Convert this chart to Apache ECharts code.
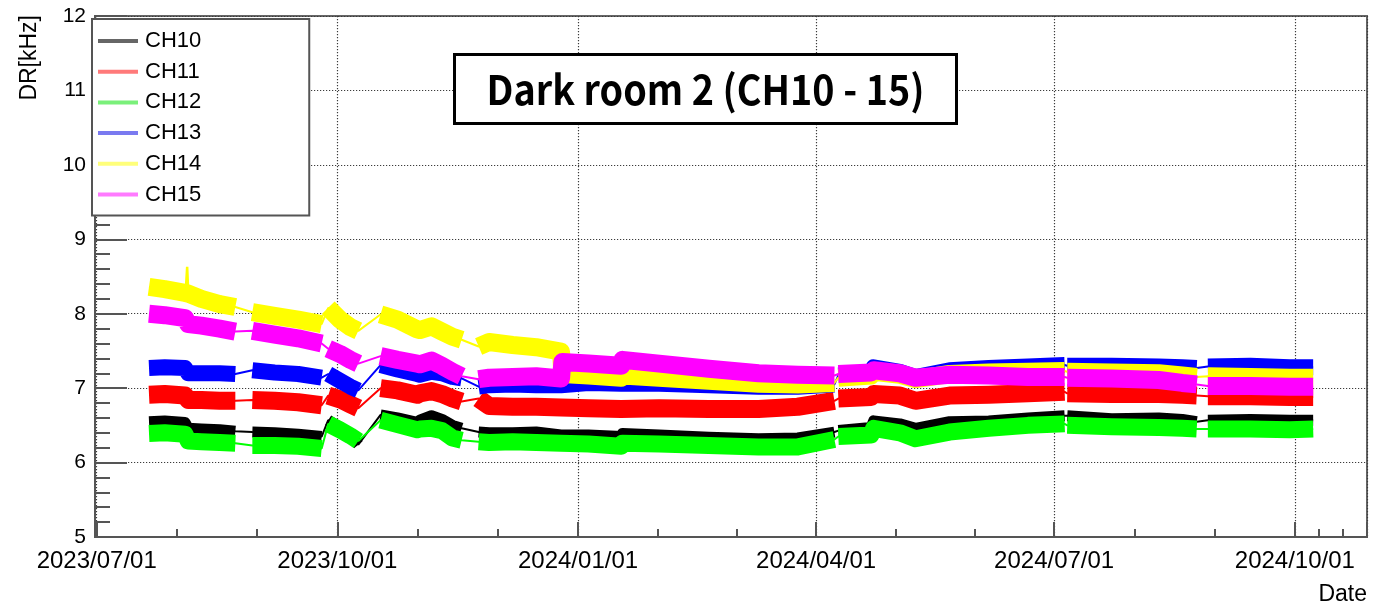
<!DOCTYPE html>
<html>
<head>
<meta charset="utf-8">
<title>Dark room 2 (CH10 - 15)</title>
<script src="https://cdn.jsdelivr.net/npm/echarts@6/dist/echarts.min.js"></script>
<style>
  html, body { margin: 0; padding: 0; background: #fff; }
  #chart { width: 1375px; height: 605px; }
</style>
</head>
<body>
<div id="chart"></div>
<script>
// Sampling dates of the dark-rate record; null values in the channel arrays mark
// the stretches without data (the points there only separate the runs).
const dates = [
  // run 1
  '2023-07-21', '2023-07-27', '2023-08-03T18:00',
  '2023-08-05', '2023-08-10', '2023-08-17', '2023-08-23',
  '2023-08-26',                                   // no data
  // run 2
  '2023-08-29T12:00', '2023-09-07', '2023-09-16', '2023-09-25',
  '2023-09-26T12:00',                             // no data
  // run 3
  '2023-09-27T12:00', '2023-10-02', '2023-10-06', '2023-10-09',
  '2023-10-13',                                   // no data
  // run 4
  '2023-10-17T12:00', '2023-10-24', '2023-10-31T12:00', '2023-11-01T12:00',
  '2023-11-06', '2023-11-10', '2023-11-14', '2023-11-17T12:00',
  '2023-11-21',                                   // no data
  // run 5
  '2023-11-24', '2023-11-28', '2023-12-07', '2023-12-16', '2023-12-25T12:00',
  '2023-12-26', '2024-01-05', '2024-01-17T12:00', '2024-01-18', '2024-02-01',
  '2024-02-20', '2024-03-10', '2024-03-25', '2024-04-08',
  '2024-04-08T18:00',                             // no data
  // run 6
  '2024-04-09T12:00', '2024-04-22', '2024-04-23', '2024-05-03', '2024-05-09',
  '2024-05-22', '2024-06-06', '2024-06-21', '2024-07-05',
  '2024-07-05T12:00',                             // no data
  // run 7
  '2024-07-06', '2024-07-23', '2024-08-10', '2024-08-19', '2024-08-24T12:00',
  '2024-08-26',                                   // no data
  // run 8
  '2024-08-28T18:00', '2024-09-14', '2024-09-29', '2024-10-08'
];

// Dark rate per channel [kHz], one value per entry of `dates`.
const ch10 = [
  6.55, 6.56, 6.54, 6.46, 6.45, 6.44, 6.42, null,
  6.41, 6.40, 6.38, 6.35, null,
  6.57, 6.47, 6.37, 6.24, null,
  6.64, 6.60, 6.54, 6.57, 6.63, 6.58, 6.50, 6.46, null,
  6.41, 6.40, 6.40, 6.41, 6.37, 6.37, 6.37, 6.35, 6.39, 6.37, 6.34, 6.32, 6.33, 6.41, null,
  6.43, 6.47, 6.56, 6.52, 6.46, 6.55, 6.56, 6.60, 6.63, null,
  6.63, 6.59, 6.60, 6.58, 6.55, null,
  6.57, 6.58, 6.57, 6.57
];
const ch11 = [
  6.91, 6.92, 6.90, 6.84, 6.84, 6.83, 6.83, null,
  6.84, 6.83, 6.81, 6.77, null,
  6.90, 6.85, 6.78, 6.73, null,
  7.00, 6.97, 6.91, 6.93, 6.96, 6.92, 6.86, 6.82, null,
  6.86, 6.76, 6.75, 6.75, 6.74, 6.74, 6.73, 6.72, 6.74, 6.73, 6.72, 6.72, 6.75, 6.83, null,
  6.86, 6.88, 6.92, 6.90, 6.83, 6.90, 6.91, 6.93, 6.95, null,
  6.93, 6.92, 6.92, 6.91, 6.90, null,
  6.89, 6.89, 6.88, 6.88
];
const ch12 = [
  6.39, 6.40, 6.38, 6.29, 6.28, 6.27, 6.26, null,
  6.23, 6.23, 6.22, 6.19, null,
  6.52, 6.44, 6.36, 6.29, null,
  6.57, 6.51, 6.44, 6.45, 6.46, 6.43, 6.33, 6.30, null,
  6.28, 6.27, 6.28, 6.27, 6.26, 6.26, 6.25, 6.22, 6.26, 6.25, 6.23, 6.21, 6.21, 6.31, null,
  6.35, 6.37, 6.46, 6.40, 6.32, 6.41, 6.46, 6.50, 6.52, null,
  6.50, 6.48, 6.47, 6.46, 6.45, null,
  6.45, 6.45, 6.44, 6.45
];
const ch13 = [
  7.27, 7.28, 7.27, 7.20, 7.20, 7.20, 7.19, null,
  7.24, 7.21, 7.19, 7.14, null,
  7.19, 7.10, 7.02, 6.97, null,
  7.31, 7.25, 7.19, 7.18, 7.22, 7.20, 7.15, 7.13, null,
  7.02, 7.04, 7.05, 7.04, 7.04, 7.06, 7.07, 7.06, 7.08, 7.06, 7.04, 7.02, 7.02, 7.05, null,
  7.17, 7.20, 7.28, 7.22, 7.15, 7.24, 7.27, 7.29, 7.31, null,
  7.30, 7.30, 7.29, 7.28, 7.27, null,
  7.29, 7.30, 7.28, 7.28
];
const ch14 = [
  8.36, 8.33, 8.28, 8.27, 8.20, 8.13, 8.09, null,
  8.02, 7.97, 7.92, 7.86, null,
  8.08, 7.92, 7.82, 7.77, null,
  7.99, 7.92, 7.79, 7.78, 7.83, 7.76, 7.69, 7.65, null,
  7.56, 7.62, 7.58, 7.55, 7.49, 7.19, 7.17, 7.14, 7.17, 7.14, 7.10, 7.06, 7.05, 7.07, null,
  7.14, 7.17, 7.22, 7.18, 7.12, 7.19, 7.21, 7.22, 7.23, null,
  7.22, 7.21, 7.20, 7.17, 7.15, null,
  7.16, 7.15, 7.14, 7.14
];
const ch15 = [
  8.00, 7.98, 7.94, 7.86, 7.84, 7.80, 7.76, null,
  7.77, 7.72, 7.67, 7.60, null,
  7.53, 7.46, 7.38, 7.33, null,
  7.43, 7.38, 7.33, 7.32, 7.37, 7.30, 7.22, 7.16, null,
  7.12, 7.14, 7.15, 7.16, 7.13, 7.35, 7.33, 7.30, 7.38, 7.33, 7.26, 7.20, 7.18, 7.17, null,
  7.19, 7.21, 7.24, 7.20, 7.14, 7.18, 7.17, 7.15, 7.15, null,
  7.14, 7.13, 7.11, 7.07, 7.05, null,
  7.03, 7.03, 7.02, 7.02
];

// Short burst on CH14 at the start of August 2023.
const ch14Burst = [
  ['2023-08-04T00:00', 8.28],
  ['2023-08-04T14:00', 8.63],
  ['2023-08-05T00:00', 8.28]
];

const channelNames = ['CH10', 'CH11', 'CH12', 'CH13', 'CH14', 'CH15'];
const channelValues = [ch10, ch11, ch12, ch13, ch14, ch15];

// Drawing styles
const lineColors   = ['#000000', '#ff0000', '#00ff00', '#0000ff', '#ffff00', '#ff00ff'];
const legendColors = ['#666666', '#ff7a7a', '#7af07a', '#7a7af0', '#ffff7a', '#ff7aff'];
const bandWidths   = [11, 18, 17, 16, 18, 18];
const FONT = '"Liberation Sans", Arial, sans-serif';
const DAY = 24 * 3600 * 1000;
const GRID_DOTS = { color: '#3c3c3c', width: 1.2, type: [1.2, 1.8] };

const pad2 = n => String(n).padStart(2, '0');
const toPairs = vals => dates.map((d, i) => [d, vals[i]]);

const series = [];
channelNames.forEach((name, i) => {
  const color = lineColors[i];
  // thin trace joining every run, bridging the empty stretches
  series.push({
    name, type: 'line', data: toPairs(channelValues[i]),
    connectNulls: true, symbol: 'none', silent: true,
    itemStyle: { color },
    lineStyle: { color, width: 2 }
  });
  // wide band of the recorded rate inside each run
  series.push({
    name, type: 'line', data: toPairs(channelValues[i]),
    connectNulls: false, symbol: 'none', silent: true,
    itemStyle: { color },
    lineStyle: { color, width: bandWidths[i], cap: 'butt', join: 'round' }
  });
  if (name === 'CH14') {
    series.push({
      name, type: 'line', data: ch14Burst, symbol: 'none', silent: true,
      itemStyle: { color },
      lineStyle: { color, width: 2.5 }
    });
  }
});

const chart = echarts.init(document.getElementById('chart'), null, { renderer: 'canvas' });

chart.setOption({
  animation: false,
  backgroundColor: '#ffffff',
  grid: {
    left: 95, right: 8, top: 16, bottom: 68,
    show: true, borderColor: '#666', borderWidth: 2, backgroundColor: 'transparent'
  },
  legend: {
    orient: 'vertical', left: 92, top: 19,
    data: channelNames.map((n, i) => ({ name: n, icon: 'rect', itemStyle: { color: legendColors[i] } })),
    itemWidth: 40, itemHeight: 4, itemGap: 8.7,
    padding: [11, 108, 10, 6],
    backgroundColor: '#ffffff', borderColor: '#555', borderWidth: 2, borderRadius: 0,
    selectedMode: false,
    textStyle: { fontFamily: FONT, fontSize: 22, color: '#000', lineHeight: 22, padding: [0, 0, 0, 2] }
  },
  xAxis: {
    type: 'time',
    min: new Date(2023, 5, 30, 8, 30).getTime(),
    max: new Date(2024, 9, 28, 14, 0).getTime(),
    splitNumber: 5,
    minInterval: 92 * DAY,
    maxInterval: 95 * DAY,
    axisLine: { show: true, lineStyle: { color: '#555', width: 2 } },
    axisTick: { show: true, inside: true, length: 15, lineStyle: { color: '#555', width: 2 } },
    minorTick: { show: true, splitNumber: 3, length: 8, lineStyle: { color: '#555', width: 2 } },
    splitLine: { show: true, lineStyle: GRID_DOTS },
    axisLabel: {
      fontFamily: FONT, fontSize: 24, color: '#000', margin: 12,
      formatter: v => {
        const d = new Date(v);
        if (d.getDate() !== 1 || d.getHours() !== 0 || d.getMinutes() !== 0) return '';
        return d.getFullYear() + '/' + pad2(d.getMonth() + 1) + '/' + pad2(d.getDate());
      }
    }
  },
  yAxis: {
    type: 'value', min: 5, max: 12, interval: 1,
    axisLine: { show: true, lineStyle: { color: '#555', width: 2 } },
    axisTick: { show: true, inside: true, length: 32, lineStyle: { color: '#555', width: 2 } },
    minorTick: { show: true, splitNumber: 5, length: 15, lineStyle: { color: '#555', width: 2 } },
    splitLine: { show: true, lineStyle: GRID_DOTS },
    axisLabel: { fontFamily: FONT, fontSize: 21, color: '#000', margin: 9 }
  },
  graphic: [
    {
      type: 'rect', z: 100,
      shape: { x: 454.5, y: 54.5, width: 502, height: 69 },
      style: { fill: '#ffffff', stroke: '#000000', lineWidth: 3 }
    },
    {
      type: 'text', z: 101, x: 705.5, y: 89, scaleX: 0.92,
      style: {
        text: 'Dark room 2 (CH10 - 15)',
        font: 'bold 41px "Noto Sans CJK JP", "Noto Sans", sans-serif',
        fill: '#000', align: 'center', verticalAlign: 'middle'
      }
    },
    {
      type: 'text', z: 101, x: 30, y: 15, rotation: Math.PI / 2,
      style: {
        text: 'DR[kHz]', font: '23px ' + FONT,
        fill: '#000', align: 'right', verticalAlign: 'middle'
      }
    },
    {
      type: 'text', z: 101, x: 1367, y: 595,
      style: {
        text: 'Date', font: '23px ' + FONT,
        fill: '#000', align: 'right', verticalAlign: 'middle'
      }
    }
  ],
  series
});
</script>
</body>
</html>
